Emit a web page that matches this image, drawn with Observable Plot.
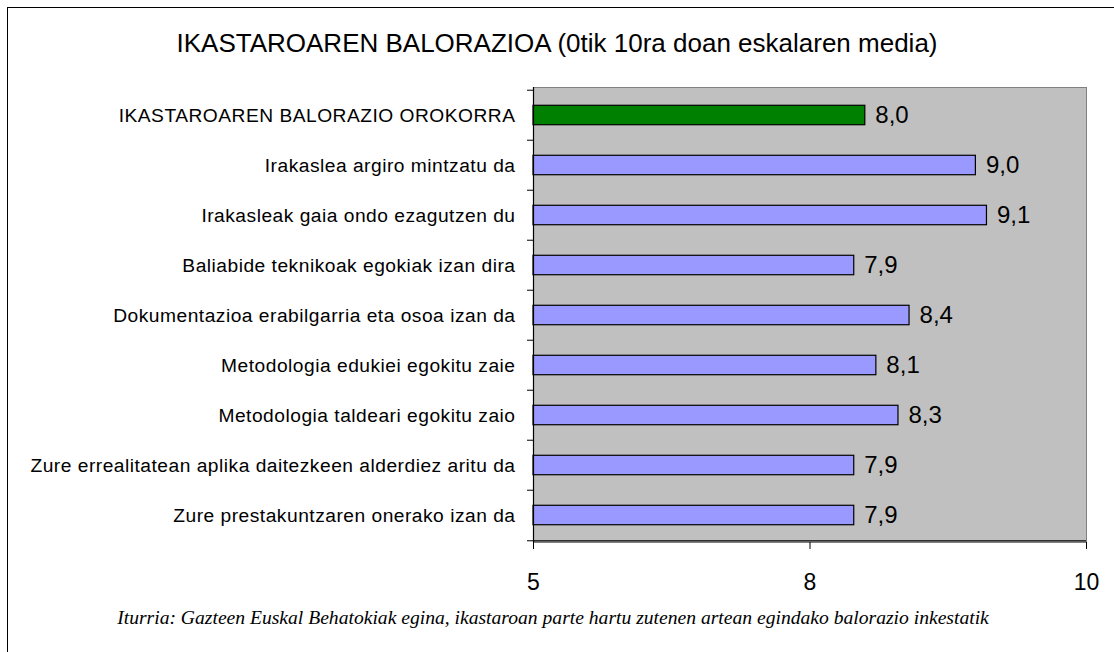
<!DOCTYPE html>
<html>
<head>
<meta charset="utf-8">
<script src="https://cdn.jsdelivr.net/npm/d3@7"></script>
<script src="https://cdn.jsdelivr.net/npm/@observablehq/plot@0.6"></script>
<style>
  html, body { margin: 0; padding: 0; background: #fff; }
  #wrap { position: relative; width: 1114px; height: 652px; overflow: hidden; background: #fff; }
  #border { position: absolute; left: 7px; top: 7px; width: 1200px; height: 700px; border: 1px solid #000; box-sizing: border-box; }
  #title { position: absolute; left: 0; width: 1114px; top: 28px; text-align: center; font-family: Arial, "Liberation Sans", sans-serif; font-size: 26px; color: #000; white-space: nowrap; }
  #chart { position: absolute; left: 0; top: 50px; }
  #caption { position: absolute; left: 0; width: 1106px; top: 607px; text-align: center; font-family: "Times New Roman", "Liberation Serif", serif; font-style: italic; font-size: 19.6px; color: #000; white-space: nowrap; }
  #chart g[aria-label="y-axis tick label"] text { letter-spacing: 0.5px; }
</style>
</head>
<body>
<div id="wrap">
  <div id="border"></div>
  <div id="title">IKASTAROAREN BALORAZIOA (0tik 10ra doan eskalaren media)</div>
  <div id="chart"></div>
  <div id="caption">Iturria: Gazteen Euskal Behatokiak egina, ikastaroan parte hartu zutenen artean egindako balorazio inkestatik</div>
</div>
<script>
const categories = [
  "IKASTAROAREN BALORAZIO OROKORRA",
  "Irakaslea argiro mintzatu da",
  "Irakasleak gaia ondo ezagutzen du",
  "Baliabide teknikoak egokiak izan dira",
  "Dokumentazioa erabilgarria eta osoa izan da",
  "Metodologia edukiei egokitu zaie",
  "Metodologia taldeari egokitu zaio",
  "Zure errealitatean aplika daitezkeen alderdiez aritu da",
  "Zure prestakuntzaren onerako izan da"
];
const values = [8.0, 9.0, 9.1, 7.9, 8.4, 8.1, 8.3, 7.9, 7.9];
const barGroup = ["overall", "item", "item", "item", "item", "item", "item", "item", "item"];
const xDomain = [5, 10];
const xTickValues = [5, 7.5, 10];
const xTickLabels = ["5", "8", "10"];

const data = categories.map((c, i) => ({category: c, value: values[i], group: barGroup[i]}));

const W = 1114, H = 560;
const mTop = 37, mBottom = 68, mLeft = 533, mRight = 28;
const bandH = (H - mTop - mBottom) / categories.length;
const barH = 20;
const inset = (bandH - barH) / 2;
const xPerPx = (xDomain[1] - xDomain[0]) / (W - mLeft - mRight);
const tickLenY = 6;

const fontSans = "Arial, 'Liberation Sans', sans-serif";

const chart = Plot.plot({
  width: W,
  height: H,
  marginTop: mTop,
  marginBottom: mBottom,
  marginLeft: mLeft,
  marginRight: mRight,
  style: {fontFamily: fontSans, background: "transparent", overflow: "visible"},
  x: {domain: xDomain},
  y: {domain: categories, padding: 0},
  color: {domain: ["overall", "item"], range: ["#008000", "#9999ff"]},
  marks: [
    Plot.frame({fill: "#c0c0c0", stroke: "#808080", strokeWidth: 1}),
    Plot.barX(data, {
      y: "category", x1: xDomain[0], x2: "value",
      fill: "group", stroke: "#000", strokeWidth: 1.2,
      insetTop: inset, insetBottom: inset
    }),
    Plot.text(data, {
      y: "category", x: "value",
      text: d => d3.format(".1f")(d.value).replace(".", ","),
      textAnchor: "start", dx: 10, fontSize: 24, fill: "#000"
    }),
    // band boundary ticks on the category axis
    Plot.ruleY(categories, {y: d => d, dy: -bandH / 2, x1: xDomain[0] - tickLenY * xPerPx, x2: xDomain[0], stroke: "#000"}),
    Plot.ruleY(categories.slice(-1), {y: d => d, dy: bandH / 2, x1: xDomain[0] - tickLenY * xPerPx, x2: xDomain[0], stroke: "#000"}),
    Plot.axisY({tickSize: 0, tickPadding: 18, fontSize: 19.2, fill: "#000", label: null}),
    Plot.axisX({
      ticks: xTickValues,
      tickFormat: (d, i) => xTickLabels[i],
      tickSize: 7, tickPadding: 24, fontSize: 23, label: null, stroke: "#000", fill: "#000"
    }),
    Plot.ruleX([xDomain[0]], {stroke: "#000", strokeWidth: 1.2}),
    Plot.ruleY([0], {y: () => categories[categories.length - 1], dy: bandH / 2, stroke: "#000", strokeWidth: 1.2})
  ]
});
document.getElementById("chart").appendChild(chart);
</script>
</body>
</html>
